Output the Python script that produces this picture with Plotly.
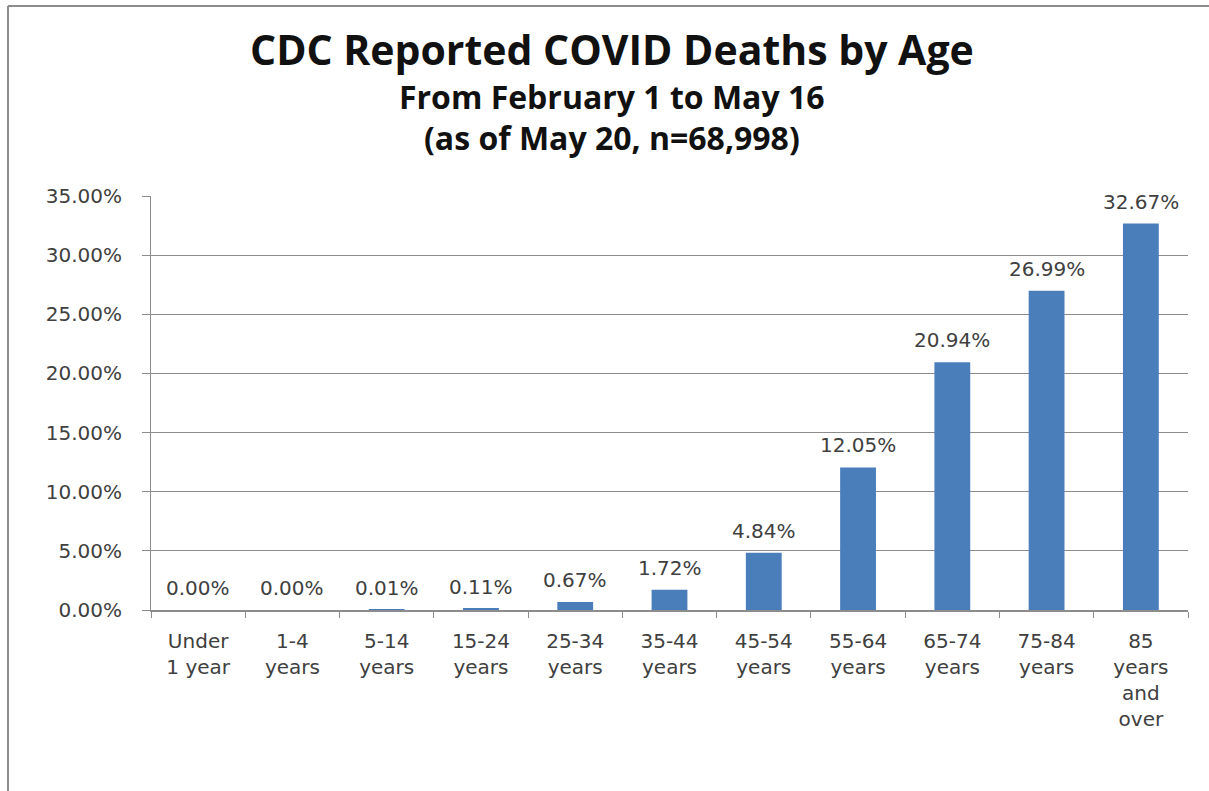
import plotly.graph_objects as go

categories = ["Under<br>1 year", "1-4<br>years", "5-14<br>years", "15-24<br>years",
              "25-34<br>years", "35-44<br>years", "45-54<br>years", "55-64<br>years",
              "65-74<br>years", "75-84<br>years", "85<br>years<br>and<br>over"]
values = [0.00, 0.00, 0.01, 0.11, 0.67, 1.72, 4.84, 12.05, 20.94, 26.99, 32.67]
y_ticks = [0, 5, 10, 15, 20, 25, 30, 35]

title_line1 = "CDC Reported COVID Deaths by Age"
title_line2 = "From February 1 to May 16"
title_line3 = "(as of May 20, n=68,998)"

LABEL_FONT = dict(family="DejaVu Sans", size=20, color="#404040")
GRID = "#8c8c8c"

fig = go.Figure()
fig.add_trace(go.Bar(
    x=categories, y=values,
    marker=dict(color="#4a7ebb", line=dict(width=0)),
    hoverinfo="skip",
))

for c, v in zip(categories, values):
    fig.add_annotation(x=c, y=v, text=f"{v:.2f}%", showarrow=False,
                       yanchor="bottom", yshift=8, font=LABEL_FONT)

fig.add_annotation(xref="paper", yref="paper", x=0.445, y=1.0, yshift=147,
                   yanchor="middle", text=f"<b>{title_line1}</b>", showarrow=False,
                   font=dict(family="Open Sans", size=41, color="#111111"))
fig.add_annotation(xref="paper", yref="paper", x=0.445, y=1.0, yshift=100,
                   yanchor="middle", text=f"<b>{title_line2}</b>", showarrow=False,
                   font=dict(family="Open Sans", size=32, color="#111111"))
fig.add_annotation(xref="paper", yref="paper", x=0.445, y=1.0, yshift=59,
                   yanchor="middle", text=f"<b>{title_line3}</b>", showarrow=False,
                   font=dict(family="Open Sans", size=32, color="#111111"))

# outer frame (top and left edges)
fig.add_shape(type="line", xref="paper", yref="paper", x0=-0.1379, x1=1.03,
              y0=1.4589, y1=1.4589, line=dict(color="#8c8c8c", width=2))
fig.add_shape(type="line", xref="paper", yref="paper", x0=-0.1379, x1=-0.1379,
              y0=1.4589, y1=-0.45, line=dict(color="#8c8c8c", width=2))

fig.update_layout(
    width=1209, height=791,
    margin=dict(l=151, r=21, t=196, b=181),
    paper_bgcolor="white", plot_bgcolor="white",
    bargap=0.62, showlegend=False,
)
fig.update_yaxes(
    range=[0, 35], tickvals=y_ticks, ticktext=[f"{t:.2f}%" for t in y_ticks],
    showgrid=True, gridcolor=GRID, gridwidth=1,
    showline=True, linecolor=GRID, linewidth=1,
    ticks="outside", ticklen=8, tickcolor=GRID,
    tickfont=LABEL_FONT, zeroline=False, ticklabelstandoff=16,
)
fig.update_xaxes(
    showline=True, linecolor=GRID, linewidth=2,
    ticks="outside", ticklen=6, tickcolor=GRID, tickson="boundaries",
    tickfont=LABEL_FONT, tickangle=0, ticklabelstandoff=12,
)

fig.write_html("out.html")
